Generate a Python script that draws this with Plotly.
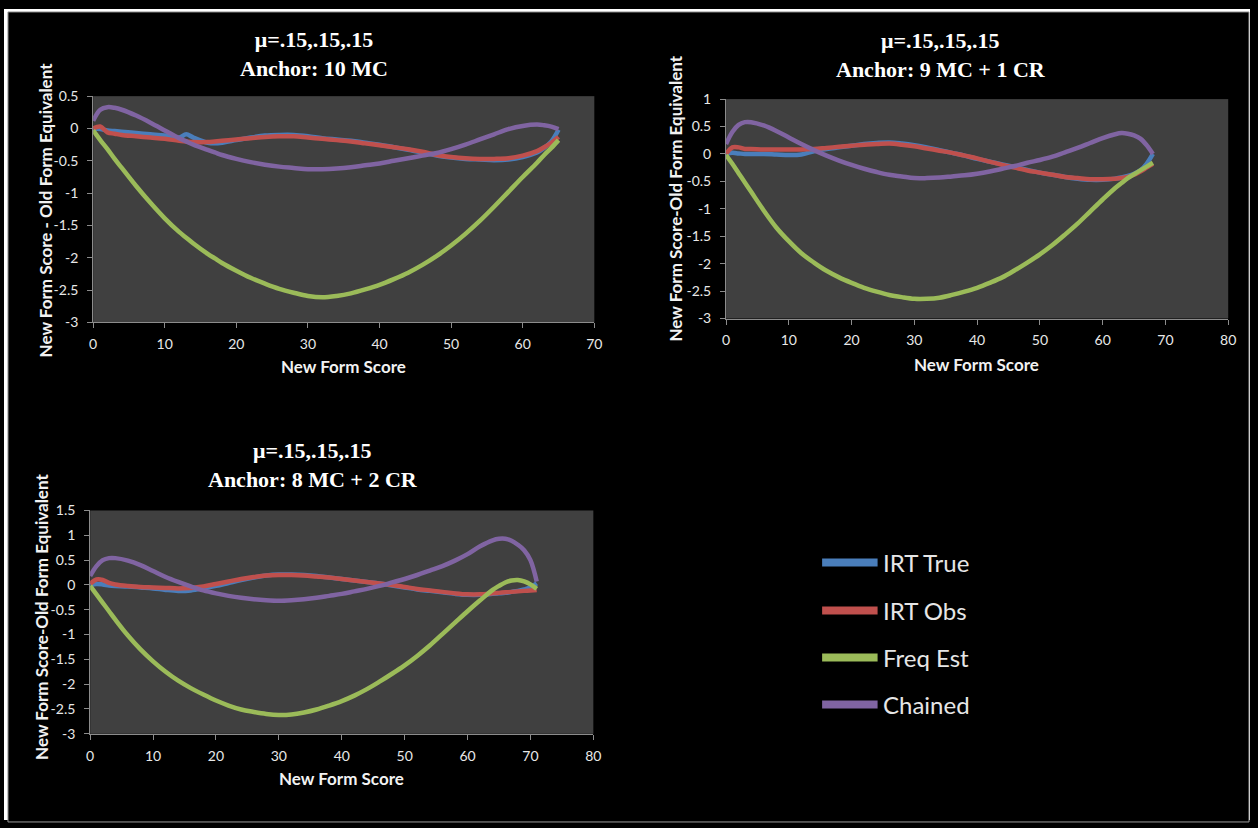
import plotly.graph_objects as go

W, H = 1258, 828

series_names = ["IRT True", "IRT Obs", "Freq Est", "Chained"]
series_colors = ["#4A7EBB", "#C0504D", "#9BBB59", "#8064A2"]

# ---------- Chart 1: Anchor 10 MC ----------
x1 = [0, 1, 2, 3, 4, 6, 8, 10, 12, 13, 14, 16, 17, 18, 20, 22, 24, 26, 28, 30, 32, 34, 36, 38,
      40, 42, 44, 46, 48, 50, 52, 54, 56, 58, 60, 62, 63, 64, 65]
irt_true_1 = [0.0, -0.01, -0.03, -0.04, -0.05, -0.07, -0.09, -0.11, -0.14, -0.09, -0.14, -0.22, -0.23,
              -0.22, -0.18, -0.14, -0.11, -0.1, -0.1, -0.12, -0.15, -0.17, -0.19, -0.22,
              -0.25, -0.29, -0.33, -0.37, -0.42, -0.45, -0.47, -0.48, -0.49, -0.48, -0.44, -0.37, -0.3, -0.2, -0.02]
irt_obs_1 = [0.0, 0.03, -0.06, -0.08, -0.1, -0.12, -0.14, -0.16, -0.19, -0.2, -0.21, -0.21, -0.2,
             -0.19, -0.17, -0.15, -0.13, -0.12, -0.12, -0.14, -0.16, -0.18, -0.2, -0.23,
             -0.26, -0.29, -0.32, -0.36, -0.41, -0.44, -0.46, -0.47, -0.47, -0.46, -0.42, -0.35, -0.29, -0.22, -0.13]
freq_est_1 = [-0.03, -0.18, -0.32, -0.47, -0.61, -0.89, -1.15, -1.39, -1.6, -1.69, -1.78, -1.94, -2.01,
              -2.08, -2.2, -2.31, -2.4, -2.48, -2.54, -2.59, -2.61, -2.59, -2.55, -2.49,
              -2.42, -2.33, -2.23, -2.11, -1.97, -1.81, -1.63, -1.43, -1.21, -0.98, -0.75, -0.53, -0.41, -0.3, -0.18]
chained_1 = [0.12, 0.29, 0.33, 0.32, 0.29, 0.2, 0.09, -0.03, -0.15, -0.2, -0.25, -0.33, -0.37,
             -0.41, -0.47, -0.52, -0.56, -0.59, -0.61, -0.63, -0.63, -0.62, -0.6, -0.57,
             -0.54, -0.5, -0.46, -0.42, -0.38, -0.32, -0.25, -0.17, -0.09, -0.01, 0.04, 0.06, 0.05, 0.03, -0.01]

# ---------- Chart 2: Anchor 9 MC + 1 CR ----------
x2 = [0, 1, 2, 3, 4, 6, 8, 10, 12, 14, 16, 18, 20, 22, 24, 26, 28, 30, 32, 34, 36, 38, 40, 42,
      44, 46, 48, 50, 52, 54, 56, 58, 60, 62, 63, 64, 65, 66, 67, 68]
irt_true_2 = [0.0, 0.02, 0.01, 0.0, 0.0, 0.0, -0.01, -0.02, -0.01, 0.05, 0.09, 0.12, 0.15, 0.18, 0.2,
              0.21, 0.19, 0.16, 0.12, 0.07, 0.02, -0.03, -0.09, -0.14, -0.19, -0.24, -0.29, -0.34,
              -0.38, -0.42, -0.45, -0.47, -0.47, -0.45, -0.43, -0.4, -0.36, -0.3, -0.18, 0.0]
irt_obs_2 = [0.0, 0.12, 0.12, 0.09, 0.09, 0.08, 0.08, 0.08, 0.08, 0.09, 0.11, 0.13, 0.15, 0.17, 0.18,
             0.19, 0.17, 0.14, 0.1, 0.06, 0.02, -0.03, -0.08, -0.14, -0.2, -0.25, -0.3, -0.34,
             -0.38, -0.42, -0.44, -0.46, -0.46, -0.45, -0.44, -0.42, -0.38, -0.32, -0.25, -0.18]
freq_est_2 = [-0.02, -0.18, -0.35, -0.52, -0.69, -1.03, -1.34, -1.59, -1.81, -1.98, -2.13, -2.25, -2.35,
              -2.44, -2.51, -2.57, -2.61, -2.64, -2.64, -2.62, -2.57, -2.51, -2.44, -2.35, -2.25,
              -2.12, -1.98, -1.83, -1.66, -1.47, -1.27, -1.05, -0.83, -0.62, -0.53, -0.44, -0.37, -0.3, -0.23, -0.16]
chained_2 = [0.18, 0.4, 0.53, 0.58, 0.58, 0.52, 0.42, 0.3, 0.18, 0.07, -0.03, -0.12, -0.2, -0.27,
             -0.33, -0.38, -0.41, -0.44, -0.44, -0.43, -0.41, -0.39, -0.36, -0.32, -0.27, -0.22,
             -0.16, -0.11, -0.05, 0.03, 0.11, 0.2, 0.29, 0.36, 0.38, 0.37, 0.34, 0.28, 0.16, 0.0]

# ---------- Chart 3: Anchor 8 MC + 2 CR ----------
x3 = [0, 1, 2, 3, 4, 6, 8, 10, 12, 14, 16, 18, 20, 22, 24, 26, 28, 30, 32, 34, 36, 38, 40, 42,
      44, 46, 48, 50, 52, 54, 56, 58, 60, 62, 64, 65, 66, 67, 68, 69, 70, 71]
irt_true_3 = [0.0, 0.02, 0.01, -0.01, -0.02, -0.03, -0.05, -0.07, -0.1, -0.12, -0.11, -0.07, -0.02,
              0.04, 0.1, 0.15, 0.19, 0.21, 0.21, 0.2, 0.18, 0.15, 0.12, 0.09, 0.06, 0.03, -0.01,
              -0.05, -0.09, -0.12, -0.15, -0.18, -0.2, -0.2, -0.18, -0.17, -0.16, -0.14, -0.12,
              -0.09, -0.05, 0.03]
irt_obs_3 = [0.02, 0.11, 0.1, 0.04, 0.01, -0.02, -0.04, -0.05, -0.06, -0.07, -0.06, -0.03, 0.02,
             0.07, 0.12, 0.16, 0.19, 0.2, 0.2, 0.19, 0.17, 0.15, 0.12, 0.09, 0.06, 0.03, 0.0,
             -0.04, -0.08, -0.11, -0.14, -0.17, -0.19, -0.19, -0.17, -0.16, -0.15, -0.14, -0.13,
             -0.12, -0.11, -0.1]
freq_est_3 = [-0.02, -0.19, -0.36, -0.53, -0.7, -1.02, -1.3, -1.54, -1.75, -1.93, -2.08, -2.21, -2.33,
              -2.43, -2.51, -2.56, -2.6, -2.62, -2.61, -2.57, -2.51, -2.43, -2.34, -2.23, -2.1,
              -1.95, -1.79, -1.62, -1.43, -1.22, -0.99, -0.76, -0.53, -0.31, -0.1, -0.02, 0.05, 0.09,
              0.1, 0.07, 0.01, -0.08]
chained_3 = [0.18, 0.38, 0.5, 0.54, 0.54, 0.49, 0.4, 0.28, 0.16, 0.06, -0.03, -0.11, -0.17, -0.22,
             -0.26, -0.29, -0.31, -0.32, -0.31, -0.29, -0.26, -0.22, -0.18, -0.13, -0.08, -0.02,
             0.05, 0.12, 0.2, 0.29, 0.38, 0.49, 0.62, 0.78, 0.9, 0.93, 0.93, 0.89, 0.81, 0.7, 0.5, 0.07]

titles = ["μ=.15,.15,.15<br>Anchor: 10 MC",
          "μ=.15,.15,.15<br>Anchor: 9 MC + 1 CR",
          "μ=.15,.15,.15<br>Anchor: 8 MC + 2 CR"]
y_titles = ["New Form Score - Old Form Equivalent",
            "New Form Score-Old Form Equivalent",
            "New Form Score-Old Form Equivalent"]
x_title = "New Form Score"

x_ranges = [[0, 70], [0, 80], [0, 80]]
x_ticks = [[0, 10, 20, 30, 40, 50, 60, 70], [0, 10, 20, 30, 40, 50, 60, 70, 80],
           [0, 10, 20, 30, 40, 50, 60, 70, 80]]
y_ranges = [[-3, 0.5], [-3, 1], [-3, 1.5]]
y_ticks = [[0.5, 0, -0.5, -1, -1.5, -2, -2.5, -3],
           [1, 0.5, 0, -0.5, -1, -1.5, -2, -2.5, -3],
           [1.5, 1, 0.5, 0, -0.5, -1, -1.5, -2, -2.5, -3]]

charts = [
    (x1, [irt_true_1, irt_obs_1, freq_est_1, chained_1]),
    (x2, [irt_true_2, irt_obs_2, freq_est_2, chained_2]),
    (x3, [irt_true_3, irt_obs_3, freq_est_3, chained_3]),
]

# layout geometry (pixels)
plot_boxes = [(90, 596, 89, 320), (729, 1236, 92, 316), (87, 595, 512, 740)]
title_pos = [(313, 46), (946, 47), (312, 466)]
ytitle_pos = [(42, 205), (677, 194), (38, 621)]
xtitle_pos = [(343, 365), (982, 363), (341, 786)]
legend_rows = [565, 614, 662, 710]


def fmt(v):
    return "%g" % v


def px(x):
    return x / W


def py(y):
    return 1 - y / H


fig = go.Figure()

TICKFONT = dict(family="Lato", size=14, color="#e8e8e8")
AXTITLEFONT = dict(family="Lato", size=17, color="#f2f2f2", weight="bold")

for i, (xs, ys_list) in enumerate(charts):
    xa = "x" if i == 0 else "x%d" % (i + 1)
    ya = "y" if i == 0 else "y%d" % (i + 1)
    for name, color, ys in zip(series_names, series_colors, ys_list):
        fig.add_trace(go.Scatter(x=xs, y=ys, mode="lines", name=name, xaxis=xa, yaxis=ya,
                                 line=dict(color=color, width=4.5, shape="spline", smoothing=1.0),
                                 showlegend=False, hoverinfo="skip"))
    x0p, x1p, y0p, y1p = plot_boxes[i]
    axcommon = dict(showgrid=False, zeroline=False, showline=True, linecolor="#8c8c8c",
                    linewidth=1, ticks="outside", ticklen=5, tickcolor="#8c8c8c",
                    tickfont=TICKFONT, fixedrange=True)
    key_x = "xaxis" if i == 0 else "xaxis%d" % (i + 1)
    key_y = "yaxis" if i == 0 else "yaxis%d" % (i + 1)
    fig.layout[key_x] = dict(domain=[px(x0p), px(x1p)], range=x_ranges[i], anchor=ya,
                             tickvals=x_ticks[i], ticktext=[fmt(v) for v in x_ticks[i]],
                             ticklabelstandoff=4, **axcommon)
    fig.layout[key_y] = dict(domain=[py(y1p), py(y0p)], range=y_ranges[i], anchor=xa,
                             tickvals=y_ticks[i], ticktext=[fmt(v) for v in y_ticks[i]],
                             ticklabelstandoff=6, **axcommon)

annotations = []
for i in range(3):
    tx, ty = title_pos[i]
    annotations.append(dict(text=titles[i], x=px(tx), y=py(ty), xref="paper", yref="paper",
                            showarrow=False, xanchor="center", yanchor="middle",
                            font=dict(family="Liberation Serif", size=22, color="white", weight="bold")))
    yx, yy = ytitle_pos[i]
    annotations.append(dict(text=y_titles[i], x=px(yx), y=py(yy), xref="paper", yref="paper",
                            showarrow=False, xanchor="center", yanchor="middle", textangle=-90,
                            font=AXTITLEFONT))
    xx, xy = xtitle_pos[i]
    annotations.append(dict(text=x_title, x=px(xx), y=py(xy), xref="paper", yref="paper",
                            showarrow=False, xanchor="center", yanchor="middle",
                            font=AXTITLEFONT))

shapes = []
for name, color, ry in zip(series_names, series_colors, legend_rows):
    shapes.append(dict(type="line", xref="paper", yref="paper", x0=px(826), x1=px(882),
                       y0=py(ry), y1=py(ry), line=dict(color=color, width=8)))
    annotations.append(dict(text=name, x=px(885), y=py(ry), xref="paper", yref="paper",
                            showarrow=False, xanchor="left", yanchor="middle",
                            font=dict(family="Lato", size=24, color="#e6e6e6")))

# white page border around the black chart area
shapes.append(dict(type="rect", xref="paper", yref="paper", x0=0, x1=1, y0=py(3), y1=1,
                   fillcolor="white", line=dict(width=0), layer="above"))
shapes.append(dict(type="rect", xref="paper", yref="paper", x0=0, x1=px(4), y0=0, y1=1,
                   fillcolor="white", line=dict(width=0), layer="above"))
shapes.append(dict(type="rect", xref="paper", yref="paper", x0=px(1257), x1=1, y0=0, y1=1,
                   fillcolor="white", line=dict(width=0), layer="above"))
shapes.append(dict(type="rect", xref="paper", yref="paper", x0=px(4), x1=px(1257), y0=py(830), y1=py(3),
                   fillcolor="rgba(0,0,0,0)", line=dict(width=1, color="#9a9a9a"), layer="above"))

fig.update_layout(width=W, height=H, margin=dict(l=0, r=0, t=0, b=0),
                  paper_bgcolor="black", plot_bgcolor="#404040",
                  showlegend=False, annotations=annotations, shapes=shapes)

fig.write_html("out.html", config={"displayModeBar": False},
               post_script="document.body.style.margin='0';document.body.style.overflow='hidden';")
